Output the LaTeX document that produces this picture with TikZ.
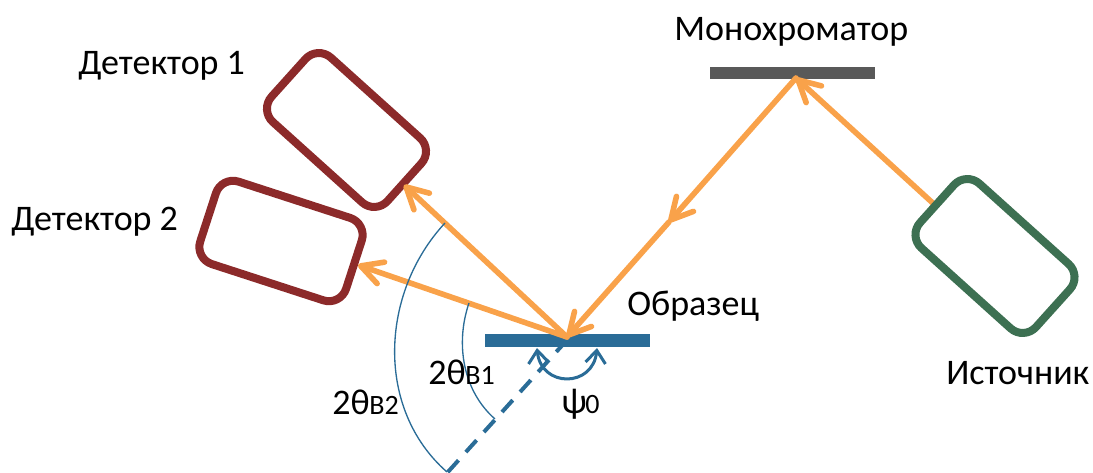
\documentclass[tikz,border=0pt]{standalone}
\usepackage{fontspec}
\setmainfont{Carlito}
\usetikzlibrary{arrows.meta}
\definecolor{beam}{HTML}{F9A24A}
\definecolor{sampleblue}{HTML}{2A6C97}
\definecolor{detred}{HTML}{8C2A2A}
\definecolor{srcgreen}{HTML}{3D7052}
\definecolor{monogray}{HTML}{595959}
\tikzset{
  boxbase/.style={draw, fill=white, line width=6pt, rounded corners=13.5pt, inner sep=0pt},
  detbox/.style={boxbase, draw=detred},
  srcbox/.style={boxbase, draw=srcgreen},
  barbar/.style={rectangle, inner sep=0pt, minimum width=123.75pt, minimum height=9.4pt},
  beamline/.style={draw=beam, line width=4.2pt, line cap=round,
    -{Straight Barb[length=16pt,width=17pt,line width=4.2pt,round]}},
  thinarc/.style={draw=sampleblue, line width=1pt},
  psiarc/.style={draw=sampleblue, line width=2.25pt,
    {Straight Barb[length=9.5pt,width=15pt,line width=2.25pt]}-{Straight Barb[length=9.5pt,width=15pt,line width=2.25pt]}},
  lab/.style={anchor=base west, inner sep=0pt, font=\fontsize{27}{32}\selectfont},
  sublab/.style={anchor=base west, inner sep=0pt, font=\fontsize{21}{25}\selectfont}
}
\begin{document}
\begin{tikzpicture}[x=0.75pt,y=-0.75pt]
\useasboundingbox (0,0) rectangle (1093,473);
% anchors
\coordinate (hit) at (567,337);
\coordinate (monohit) at (796,78);
\coordinate (midbeam) at (669,222);
\coordinate (srcout) at (936,206);
\coordinate (det1in) at (404,185);
\coordinate (det2in) at (358,265);
\coordinate (dashstart) at (567,340);
\coordinate (dashend) at (447,473);
% dashed normal
\draw[sampleblue, line width=3pt, dash pattern=on 12pt off 8.25pt] (dashstart) -- (dashend);
% detectors
\node[detbox, minimum width=117pt, minimum height=65pt, rotate=-42] (det1) at (346.5,130) {};
\node[detbox, minimum width=115pt, minimum height=65pt, rotate=-18] (det2) at (281,241) {};
% bars
\node[barbar, fill=monogray] (mono) at (792.5,73) {};
\node[barbar, fill=sampleblue] (sample) at (567.5,340.5) {};
% beams
\draw[beamline] (srcout) -- (monohit);
\draw[beamline] (monohit) -- (midbeam);
\draw[beamline] (midbeam) -- (hit);
\draw[beamline] (hit) -- (det1in);
\draw[beamline] (hit) -- (det2in);
% source
\node[srcbox, minimum width=117pt, minimum height=65pt, rotate=-42] (src) at (995,256) {};
% angle arcs
\draw[thinarc] (469,303) .. controls (455,344) and (463,391) .. (495,419);
\draw[thinarc] (445,223) .. controls (380,293) and (375,409) .. (447,472);
\draw[psiarc] (537,348) .. controls (541,388) and (593,388) .. (597,348);
% labels
\node[lab] (lmono) at (674,41) {Монохроматор};
\node[lab] (ldet1) at (78,75) {Детектор 1};
\node[lab] (ldet2) at (11,231) {Детектор 2};
\node[lab] (lsample) at (627,316) {Образец};
\node[lab] (lsrc) at (946,385) {Источник};
\node[lab] (ltwo1) at (428,385) {2θ};
\node[sublab] (lb1) at (465,385) {B1};
\node[lab] (ltwo2) at (332,415) {2θ};
\node[sublab] (lb2) at (369,415) {B2};
\node[lab] (lpsi) at (561,414) {ψ};
\node[sublab] (lzero) at (585,414) {0};
\end{tikzpicture}
\end{document}
